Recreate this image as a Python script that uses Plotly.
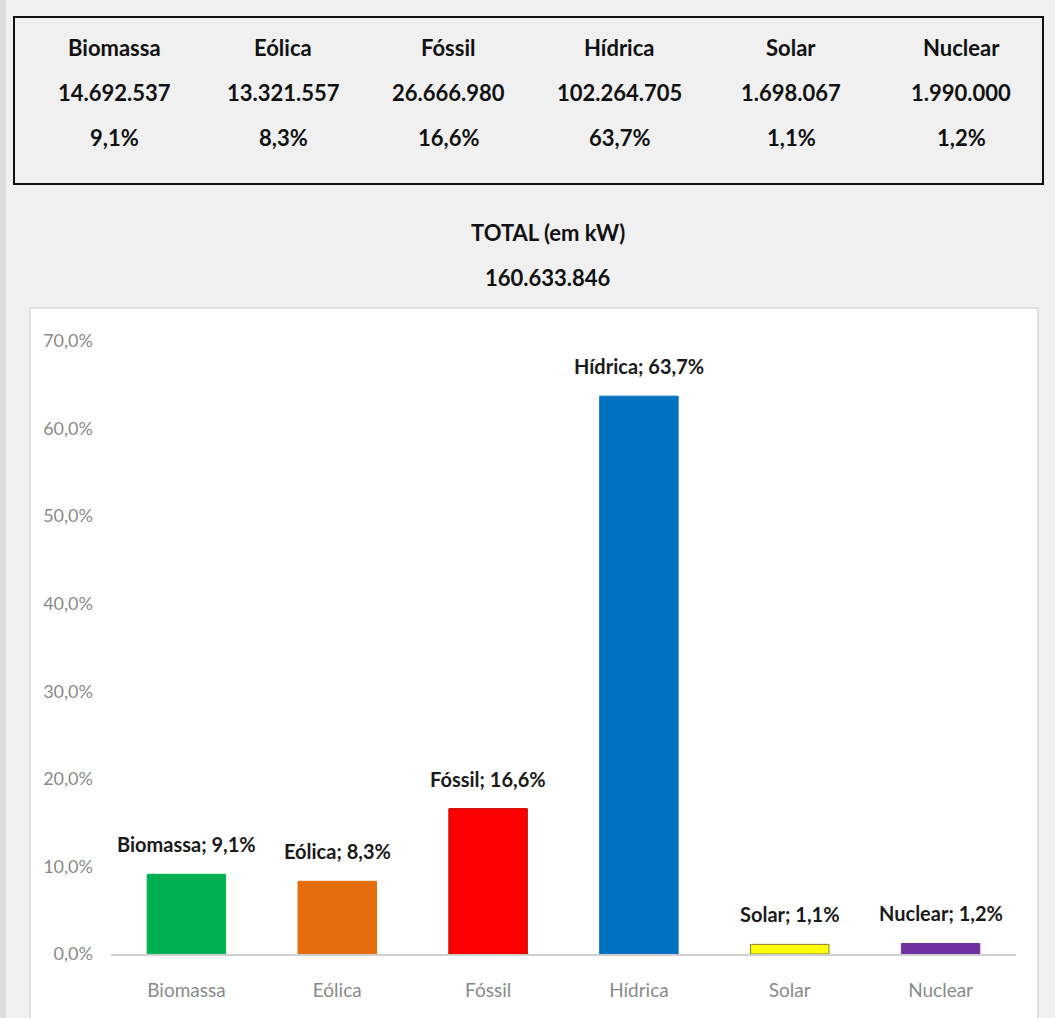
import plotly.graph_objects as go

categories = ["Biomassa", "Eólica", "Fóssil", "Hídrica", "Solar", "Nuclear"]
power_kw = [14692537, 13321557, 26666980, 102264705, 1698067, 1990000]
shares = [0.091, 0.083, 0.166, 0.637, 0.011, 0.012]
total_kw = 160633846
total_label = "TOTAL (em kW)"
colors = ["#00b050", "#e46c0a", "#ff0000", "#0070c0", "#ffff00", "#7030a0"]
outline = ["#00b050", "#e46c0a", "#c00000", "#0070c0", "#7f7f3f", "#7030a0"]

W, H = 1055, 1018
L, R, T, B = 111, 39, 341, 64
PW, PH = W - L - R, H - T - B


def px(x):
    return (x - L) / PW


def py(y):
    return (H - B - y) / PH


def fmt_int(v):
    return f"{v:,}".replace(",", ".")


def fmt_pct(v):
    return f"{v*100:.1f}%".replace(".", ",")


FONT = "Lato, 'Open Sans', sans-serif"

fig = go.Figure()
fig.add_trace(go.Bar(
    x=categories, y=shares, width=0.52,
    marker=dict(color=colors, line=dict(color=outline, width=1)),
    hoverinfo="skip",
))

shapes = []
# left page border
shapes.append(dict(type="rect", xref="paper", yref="paper", x0=px(0), x1=px(6), y0=py(H + 5), y1=py(-5),
                   fillcolor="#dcdcdc", line=dict(width=0), layer="below"))
# white chart panel
shapes.append(dict(type="rect", xref="paper", yref="paper", x0=px(30), x1=px(1038), y0=py(H + 10), y1=py(308),
                   fillcolor="white", line=dict(color="#d9d9d9", width=1.5), layer="below"))
# table box
shapes.append(dict(type="rect", xref="paper", yref="paper", x0=px(14), x1=px(1043), y0=py(184), y1=py(17),
                   fillcolor="rgba(0,0,0,0)", line=dict(color="#111111", width=2), layer="above"))

annotations = []
col_x = [114, 283, 448, 619, 791, 961]
for i, c in enumerate(categories):
    for row_y, txt in [(47, c), (92, fmt_int(power_kw[i])), (137, fmt_pct(shares[i]))]:
        annotations.append(dict(xref="paper", yref="paper", x=px(col_x[i]), y=py(row_y), text=txt,
                                showarrow=False, xanchor="center", yanchor="middle",
                                font=dict(family=FONT, size=22, color="#111111", weight="bold")))
annotations.append(dict(xref="paper", yref="paper", x=px(548), y=py(217), text=total_label, showarrow=False,
                        font=dict(family=FONT, size=22, color="#111111", weight="bold")))
annotations.append(dict(xref="paper", yref="paper", x=px(548), y=py(262), text=fmt_int(total_kw), showarrow=False,
                        font=dict(family=FONT, size=22, color="#111111", weight="bold")))
# data labels
for c, s in zip(categories, shares):
    annotations.append(dict(x=c, y=s, xref="x", yref="y", text=f"{c}; {fmt_pct(s)}", showarrow=False,
                            yanchor="bottom", yshift=16,
                            font=dict(family=FONT, size=20, color="#1a1a1a", weight="bold")))

fig.update_layout(
    width=W, height=H,
    margin=dict(l=L, r=R, t=T, b=B, pad=0),
    paper_bgcolor="#f0f0f0", plot_bgcolor="rgba(0,0,0,0)",
    separators=",.",
    showlegend=False,
    shapes=shapes, annotations=annotations,
    xaxis=dict(showgrid=False, showline=True, linecolor="#d0d0d0", linewidth=1.5, ticks="",
               tickfont=dict(family=FONT, size=19, color="#8a8a8a"), ticklabelstandoff=18,
               range=[-0.5, 5.5], fixedrange=True),
    yaxis=dict(range=[0, 0.70], tickvals=[0, 0.1, 0.2, 0.3, 0.4, 0.5, 0.6, 0.7], tickformat=".1%",
               showgrid=False, zeroline=False, showline=False, ticks="",
               tickfont=dict(family=FONT, size=18, color="#8a8a8a"), ticklabelstandoff=17,
               fixedrange=True),
)

fig.write_html(
    "out.html",
    config={"displayModeBar": False},
    post_script="document.body.style.margin='0';document.body.style.overflow='hidden';document.body.style.background='#f0f0f0';",
)
